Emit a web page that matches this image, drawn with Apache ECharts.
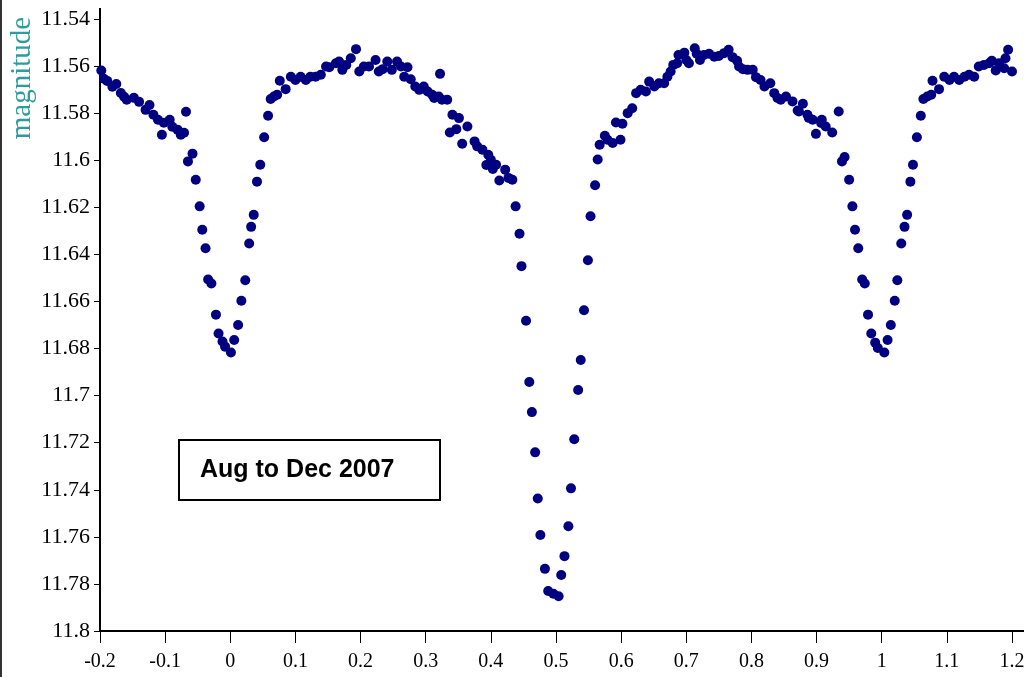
<!DOCTYPE html>
<html>
<head>
<meta charset="utf-8">
<script src="https://cdn.jsdelivr.net/npm/echarts@6/dist/echarts.min.js"></script>
<style>html,body{margin:0;padding:0;background:#fff;}#c{width:1032px;height:677px;}</style>
</head>
<body>
<div id="c"></div>
<script>
var phase = [
-0.198,-0.194,-0.189,-0.181,-0.175,-0.168,-0.163,-0.159,-0.148,-0.140,-0.130,-0.124,-0.118,-0.111,-0.105,-0.102,-0.093,-0.089,-0.081,-0.076,-0.071,-0.068,-0.065,-0.058,-0.053,-0.047,-0.043,-0.038,-0.034,-0.029,-0.022,-0.018,-0.012,-0.008,0.001,0.006,0.012,0.017,0.023,0.029,0.032,0.036,0.041,0.046,0.052,
0.058,0.062,0.067,0.072,0.076,0.085,0.093,0.100,0.108,0.116,0.123,0.131,0.139,0.147,0.152,0.162,0.167,0.172,0.178,0.185,0.193,0.198,0.205,0.213,0.223,0.228,0.234,0.241,0.248,0.256,0.262,0.267,0.272,0.277,0.284,0.290,0.297,0.303,0.310,0.313,0.320,0.322,0.325,0.333,0.337,0.341,0.347,0.351,0.356,0.364,0.375,0.379,0.387,0.393,0.396,0.400,
0.403,0.408,0.413,0.422,0.427,0.433,0.438,0.444,0.447,0.454,0.459,0.463,0.468,0.472,0.476,0.483,0.488,0.496,0.504,0.508,0.513,0.519,0.523,0.528,0.534,0.538,0.543,0.549,0.553,0.560,0.564,0.567,0.575,0.579,0.587,0.592,0.599,0.602,
0.610,0.617,0.623,0.630,0.638,0.643,0.651,0.658,0.666,0.671,0.676,0.680,0.686,0.688,0.697,0.700,0.704,0.713,0.716,0.721,0.727,0.735,0.743,0.750,0.758,0.765,0.771,0.778,0.781,0.787,0.794,0.802,0.807,0.814,0.820,0.829,0.835,0.840,0.845,0.853,0.863,0.871,0.873,0.879,0.886,0.888,0.894,0.899,0.907,0.908,0.914,0.924,0.934,
0.939,0.943,0.950,0.955,0.959,0.964,0.970,0.974,0.979,0.984,0.990,0.994,1.004,1.009,1.014,1.020,1.024,1.030,1.035,1.039,1.044,1.048,1.054,
1.060,1.064,1.070,1.076,1.078,1.088,1.096,1.104,1.111,1.119,1.127,1.134,1.142,1.149,1.157,1.165,1.169,1.175,1.180,1.188,1.190,1.194,1.200
];
var magnitude = [
11.5619,11.5654,11.5663,11.5688,11.5676,11.5714,11.5730,11.5743,11.5735,11.5752,11.5786,11.5765,11.5807,11.5828,11.5892,11.5841,11.5828,11.5858,11.5870,11.5892,11.5883,11.5794,11.6005,11.5972,11.6083,11.6196,11.6295,11.6374,11.6507,11.6524,11.6656,11.6736,11.6770,11.6792,11.6817,11.6764,11.6700,11.6597,11.6510,11.6354,11.6283,11.6232,11.6091,11.6019,11.5902,
11.5811,11.5740,11.5729,11.5722,11.5662,11.5698,11.5645,11.5659,11.5645,11.5659,11.5645,11.5645,11.5637,11.5602,11.5605,11.5588,11.5581,11.5616,11.5595,11.5567,11.5528,11.5623,11.5602,11.5602,11.5574,11.5623,11.5613,11.5581,11.5616,11.5581,11.5602,11.5645,11.5605,11.5656,11.5687,11.5701,11.5687,11.5708,11.5722,11.5736,11.5729,11.5633,11.5743,11.5743,11.5882,11.5807,11.5868,11.5821,11.5930,11.5857,11.5920,11.5941,11.5955,11.6020,11.5977,11.5998,
11.6037,11.6019,11.6086,11.6040,11.6075,11.6083,11.6196,11.6312,11.6450,11.6682,11.6942,11.7070,11.7241,11.7437,11.7592,11.7736,11.7830,11.7842,11.7852,11.7762,11.7682,11.7555,11.7394,11.7185,11.6976,11.6849,11.6637,11.6425,11.6238,11.6106,11.5997,11.5934,11.5896,11.5913,11.5927,11.5840,11.5913,11.5845,
11.5800,11.5779,11.5715,11.5701,11.5708,11.5666,11.5687,11.5673,11.5673,11.5645,11.5623,11.5595,11.5588,11.5553,11.5543,11.5574,11.5588,11.5524,11.5548,11.5574,11.5553,11.5548,11.5560,11.5557,11.5545,11.5531,11.5562,11.5577,11.5602,11.5613,11.5616,11.5616,11.5647,11.5659,11.5687,11.5673,11.5715,11.5736,11.5743,11.5729,11.5750,11.5789,11.5793,11.5760,11.5807,11.5820,11.5828,11.5888,11.5842,11.5828,11.5857,11.5882,11.5793,
11.6005,11.5986,11.6083,11.6196,11.6295,11.6374,11.6507,11.6524,11.6656,11.6736,11.6775,11.6798,11.6817,11.6764,11.6700,11.6597,11.6510,11.6354,11.6283,11.6232,11.6091,11.6019,11.5902,
11.5811,11.5740,11.5729,11.5722,11.5662,11.5698,11.5645,11.5659,11.5645,11.5659,11.5645,11.5637,11.5645,11.5602,11.5595,11.5588,11.5577,11.5619,11.5588,11.5609,11.5567,11.5531,11.5623
];
var yTitle = 'magnitude';
var boxText = 'Aug to Dec 2007';

var points = phase.map(function (p, i) { return [p, magnitude[i]]; });

var chart = echarts.init(document.getElementById('c'));
chart.setOption({
  animation: false,
  backgroundColor: '#ffffff',
  grid: { left: 100, right: 20, top: 19, bottom: 46 },
  xAxis: {
    type: 'value', min: -0.2, max: 1.2, interval: 0.1,
    axisLine: { show: true, onZero: false, lineStyle: { color: '#000', width: 2 } },
    axisTick: { show: true, length: 12, lineStyle: { color: '#000', width: 1 } },
    axisLabel: { color: '#000', fontFamily: 'Liberation Serif', fontSize: 20, margin: 21,
      formatter: function (v) { return String(Math.round(v * 10) / 10); } },
    splitLine: { show: false }
  },
  yAxis: {
    type: 'value', inverse: true, min: 11.54, max: 11.8, interval: 0.02,
    axisLine: { show: true, onZero: false, lineStyle: { color: '#000', width: 2 } },
    axisTick: { show: true, length: 6, lineStyle: { color: '#000', width: 1 } },
    axisLabel: { color: '#000', fontFamily: 'Liberation Serif', fontSize: 22, margin: 10,
      formatter: function (v) { return String(Math.round(v * 100) / 100); } },
    splitLine: { show: false }
  },
  series: [{
    type: 'scatter', data: points, symbol: 'circle', symbolSize: 10,
    itemStyle: { color: '#000080', opacity: 1 }
  }],
  graphic: [
    { type: 'line', shape: { x1: 100, y1: 8, x2: 100, y2: 20 }, style: { stroke: '#000', lineWidth: 2 } },
    { type: 'line', shape: { x1: 1011, y1: 631, x2: 1024, y2: 631 }, style: { stroke: '#000', lineWidth: 2 } },
    { type: 'line', shape: { x1: 1, y1: 0, x2: 1, y2: 677 }, style: { stroke: '#333', lineWidth: 2 } },
    { type: 'text', x: 22, y: 78, rotation: Math.PI / 2,
      style: { text: yTitle, fill: '#2e9c9c', font: '29px "Liberation Serif"', align: 'center', verticalAlign: 'middle' } },
    { type: 'rect', shape: { x: 179, y: 440, width: 261, height: 60 },
      style: { fill: '#fff', stroke: '#000', lineWidth: 2 } },
    { type: 'text', x: 200, y: 470,
      style: { text: boxText, fill: '#000', font: 'bold 25px "Liberation Sans"', align: 'left', verticalAlign: 'middle' } }
  ]
});
</script>
</body>
</html>
